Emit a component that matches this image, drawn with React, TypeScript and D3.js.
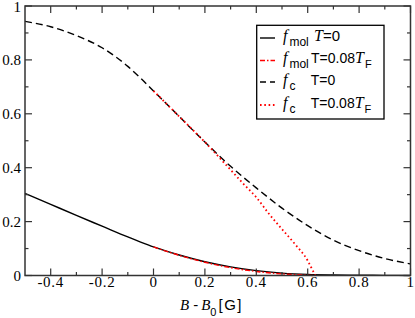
import React from "react";
import * as d3 from "d3";

// field values (G) and fractions
const xT0 = [-0.5, -0.4, -0.3, -0.2, -0.1, -0.05, 0, 0.1, 0.2, 0.3, 0.4, 0.5, 0.6, 0.7, 0.8, 0.9, 1.0];
const fcT0 = [0.943, 0.923, 0.89, 0.845, 0.776, 0.732, 0.685, 0.59, 0.495, 0.405, 0.325, 0.25, 0.185, 0.131, 0.092, 0.063, 0.043];
const fmolT0 = [0.305, 0.264, 0.223, 0.183, 0.143, 0.124, 0.106, 0.076, 0.051, 0.032, 0.018, 0.009, 0.004, 0.002, 0.001, 0.0005, 0.0002];

const xFcT1 = [0, 0.1, 0.2, 0.3, 0.35, 0.4, 0.45, 0.5, 0.55, 0.6, 0.62, 0.63];
const fcT1 = [0.685, 0.59, 0.495, 0.392, 0.34, 0.29, 0.228, 0.172, 0.117, 0.055, 0.018, 0.0];

const xFmolT1 = [0, 0.1, 0.2, 0.3, 0.4, 0.5, 0.6, 0.62];
const fmolT1 = [0.106, 0.075, 0.049, 0.029, 0.015, 0.006, 0.001, 0.0];

const xTicks = [-0.4, -0.2, 0, 0.2, 0.4, 0.6, 0.8, 1];
const xMinor = [-0.3, -0.1, 0.1, 0.3, 0.5, 0.7, 0.9];
const yTicks = [0, 0.2, 0.4, 0.6, 0.8, 1];
const yMinor = [0.1, 0.3, 0.5, 0.7, 0.9];

const serif = "Liberation Serif";
const sans = "Liberation Sans";

const left = 25, right = 410.5, top = 6, bottom = 275.5;

export default function App() {
  const x = d3.scaleLinear().domain([-0.5, 1]).range([left, right]);
  const y = d3.scaleLinear().domain([0, 1]).range([bottom, top]);
  const line = d3
    .line<[number, number]>()
    .x((d) => x(d[0]))
    .y((d) => y(d[1]))
    .curve(d3.curveMonotoneX);

  const zip = (xs: number[], ys: number[]) => xs.map((v, i) => [v, ys[i]] as [number, number]);

  const axisColor = "#333";
  const major = 7, minor = 3.5;
  const serifStyle = { fontFamily: serif };
  const serifIt = { fontFamily: serif, fontStyle: "italic" as const };
  const sansStyle = { fontFamily: sans };

  return (
    <svg width={415} height={318} style={{ position: "absolute", left: 0, top: 0, background: "#fff" }}>
      {/* data */}
      <path d={line(zip(xT0, fcT0)) || ""} fill="none" stroke="#000" strokeWidth={1.4} strokeDasharray="7,4" />
      <path d={line(zip(xT0, fmolT0)) || ""} fill="none" stroke="#000" strokeWidth={1.4} />
      <path d={line(zip(xFmolT1, fmolT1)) || ""} fill="none" stroke="#ff0000" strokeWidth={1.4} strokeDasharray="5,2,1.5,2" />
      <path d={line(zip(xFcT1, fcT1)) || ""} fill="none" stroke="#ff0000" strokeWidth={1.8} strokeDasharray="1.6,2.7" />

      {/* frame */}
      <rect x={left} y={top} width={right - left} height={bottom - top} fill="none" stroke={axisColor} strokeWidth={1.5} />
      {xTicks.map((t) => (
        <g key={"xt" + t}>
          <line x1={x(t)} x2={x(t)} y1={bottom} y2={bottom - major} stroke={axisColor} strokeWidth={1.2} />
          <line x1={x(t)} x2={x(t)} y1={top} y2={top + major} stroke={axisColor} strokeWidth={1.2} />
          <text x={x(t)} y={286.5} textAnchor="middle" style={serifStyle} fontSize={15} letterSpacing={0.7}>
            {String(t)}
          </text>
        </g>
      ))}
      {xMinor.map((t) => (
        <g key={"xm" + t}>
          <line x1={x(t)} x2={x(t)} y1={bottom} y2={bottom - minor} stroke={axisColor} strokeWidth={1.2} />
          <line x1={x(t)} x2={x(t)} y1={top} y2={top + minor} stroke={axisColor} strokeWidth={1.2} />
        </g>
      ))}
      {yTicks.map((t) => (
        <g key={"yt" + t}>
          <line x1={left} x2={left + major} y1={y(t)} y2={y(t)} stroke={axisColor} strokeWidth={1.2} />
          <line x1={right} x2={right - major} y1={y(t)} y2={y(t)} stroke={axisColor} strokeWidth={1.2} />
          <text x={21} y={Math.max(y(t) + 5, 12)} textAnchor="end" style={serifStyle} fontSize={15}>
            {String(t)}
          </text>
        </g>
      ))}
      {yMinor.map((t) => (
        <g key={"ym" + t}>
          <line x1={left} x2={left + minor} y1={y(t)} y2={y(t)} stroke={axisColor} strokeWidth={1.2} />
          <line x1={right} x2={right - minor} y1={y(t)} y2={y(t)} stroke={axisColor} strokeWidth={1.2} />
        </g>
      ))}

      {/* x label */}
      <text x={180} y={309.5} fontSize={15}>
        <tspan style={serifIt}>B</tspan>
        <tspan style={sansStyle} dx={4}>-</tspan>
        <tspan style={serifIt} dx={3}>B</tspan>
        <tspan style={sansStyle} fontSize={11} dy={6}>0</tspan>
        <tspan style={sansStyle} dy={-6} dx={2} letterSpacing={1.5}>[G]</tspan>
      </text>

      {/* legend */}
      <rect x={256.7} y={25.3} width={127.3} height={93.7} fill="#fff" stroke="#000" strokeWidth={1.3} />
      <line x1={260} x2={275} y1={38} y2={38} stroke="#000" strokeWidth={1.4} />
      <line x1={260} x2={275} y1={60.5} y2={60.5} stroke="#ff0000" strokeWidth={1.4} strokeDasharray="5,2,1.5,2" />
      <line x1={260} x2={275} y1={82} y2={82} stroke="#000" strokeWidth={1.4} strokeDasharray="6,4" />
      <line x1={260} x2={277} y1={105} y2={105} stroke="#ff0000" strokeWidth={1.8} strokeDasharray="1.6,2.7" />

      <text x={283} y={41} fontSize={16}>
        <tspan style={serifIt}>f</tspan>
        <tspan style={sansStyle} fontSize={12} dx={2} dy={5}>mol</tspan>
        <tspan style={serifIt} x={314} dy={-5}>T</tspan>
        <tspan style={sansStyle} fontSize={15}>=0</tspan>
      </text>
      <text x={283} y={63} fontSize={16}>
        <tspan style={serifIt}>f</tspan>
        <tspan style={sansStyle} fontSize={12} dx={2} dy={5}>mol</tspan>
        <tspan style={sansStyle} fontSize={14} x={311} dy={-5}>T=0.08</tspan>
        <tspan style={serifIt}>T</tspan>
        <tspan style={sansStyle} fontSize={11} dx={1} dy={5}>F</tspan>
      </text>
      <text x={283} y={85} fontSize={16}>
        <tspan style={serifIt}>f</tspan>
        <tspan style={sansStyle} fontSize={12} dx={2} dy={5}>c</tspan>
        <tspan style={sansStyle} fontSize={14} x={310.7} dy={-5}>T=0</tspan>
      </text>
      <text x={283} y={108} fontSize={16}>
        <tspan style={serifIt}>f</tspan>
        <tspan style={sansStyle} fontSize={12} dx={2} dy={5}>c</tspan>
        <tspan style={sansStyle} fontSize={14} x={310.7} dy={-5}>T=0.08</tspan>
        <tspan style={serifIt}>T</tspan>
        <tspan style={sansStyle} fontSize={11} dx={1} dy={5}>F</tspan>
      </text>
    </svg>
  );
}
